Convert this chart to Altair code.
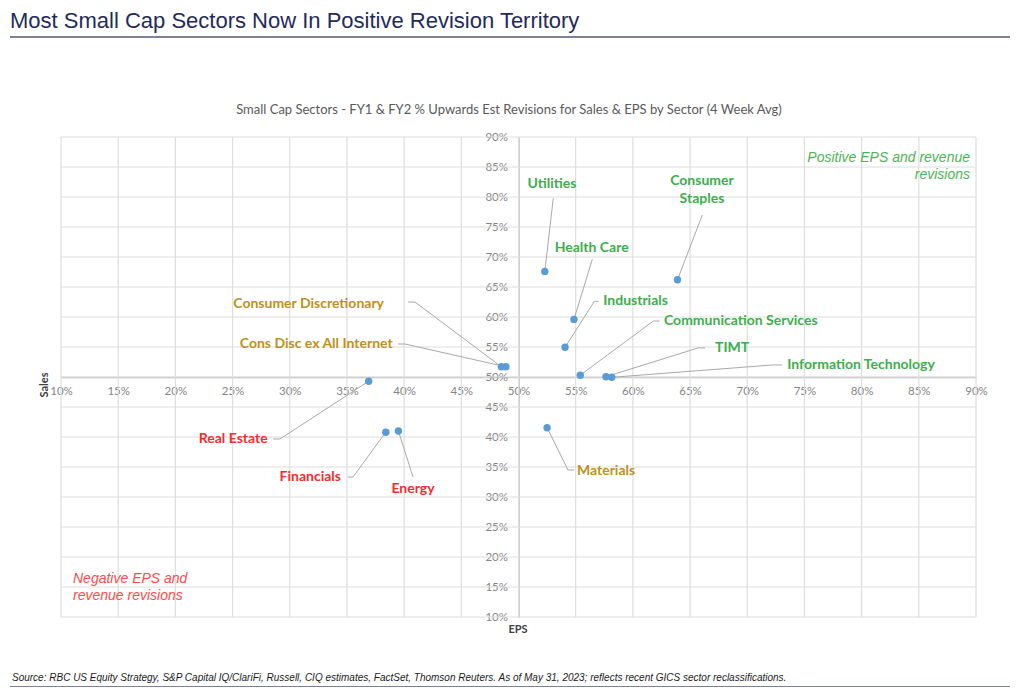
import altair as alt
import pandas as pd

# ---------------- data ----------------
sectors = ["Utilities", "Consumer Staples", "Health Care", "Industrials",
           "Communication Services", "TIMT", "Information Technology",
           "Consumer Discretionary", "Cons Disc ex All Internet",
           "Real Estate", "Financials", "Energy", "Materials"]
eps = [52.3, 63.9, 54.85, 54.07, 55.4, 57.65, 58.15, 48.5, 48.9, 36.9, 38.4, 39.5, 52.5]
sales = [67.6, 66.2, 59.6, 54.95, 50.3, 50.05, 49.95, 51.7, 51.7, 49.3, 40.8, 41.0, 41.55]
tone = ["pos", "pos", "pos", "pos", "pos", "pos", "pos",
        "mix", "mix", "neg", "neg", "neg", "mix"]

# label placement (data units): text anchor, alignment, leader elbow and end
label_lines = [["Utilities"], ["Consumer", "Staples"], ["Health Care"], ["Industrials"],
               ["Communication Services"], ["TIMT"], ["Information Technology"],
               ["Consumer Discretionary"], ["Cons Disc ex All Internet"],
               ["Real Estate"], ["Financials"], ["Energy"], ["Materials"]]
label_x = [52.93, 66.04, 56.40, 57.41, 62.72, 67.18, 73.5, 38.24, 39.0, 28.07, 34.48, 40.78, 55.11]
label_y = [82.17, 82.67, 71.45, 62.6, 59.33, 54.85, 52.0, 62.17, 55.45, 39.67, 33.33, 31.33, 34.4]
label_align = ["center", "center", "center", "left", "left", "left", "left",
               "right", "right", "right", "right", "center", "left"]
elbow_x = [None, None, None, 56.63, 61.79, 65.72, 72.16, 40.95, 40.08, 29.15, 35.53, None, 54.33]
elbow_y = [None, None, None, 62.6, 59.33, 54.85, 52.0, 62.5, 55.5, 39.67, 33.33, None, 34.5]
end_x = [53.04, 66.07, 56.45, 57.0, 62.33, 66.31, 73.04, 40.34, 39.46, 28.54, 35.09, 40.78, 54.85]
end_y = [79.78, 77.0, 69.6, 62.6, 59.33, 54.85, 52.0, 62.5, 55.5, 39.67, 33.33, 33.33, 34.5]

x_ticks = list(range(10, 95, 5))
y_ticks = list(range(10, 95, 5))

tone_domain = ["pos", "mix", "neg"]
tone_range = ["#3cae4a", "#bf9020", "#f72b2b"]

# ---------------- tables ----------------
pts = pd.DataFrame({"sector": sectors, "eps": eps, "sales": sales, "tone": tone})

lab_rows = []
for i, lines in enumerate(label_lines):
    for j, ln in enumerate(lines):
        lab_rows.append({"text": ln, "lx": label_x[i], "ly": label_y[i] - j * 3.0,
                         "align": label_align[i], "tone": tone[i]})
labs = pd.DataFrame(lab_rows)

seg_rows = []
for i, s in enumerate(sectors):
    seq = 0
    seg_rows.append({"sector": s, "seq": seq, "px": eps[i], "py": sales[i]}); seq += 1
    if elbow_x[i] is not None:
        seg_rows.append({"sector": s, "seq": seq, "px": elbow_x[i], "py": elbow_y[i]}); seq += 1
    seg_rows.append({"sector": s, "seq": seq, "px": end_x[i], "py": end_y[i]})
segs = pd.DataFrame(seg_rows)

W, H = 915, 480
xs = alt.Scale(domain=[10, 90], nice=False, zero=False)
ys = alt.Scale(domain=[10, 90], nice=False, zero=False)

LABEL_FONT = "Lato"
xaxis = alt.Axis(values=x_ticks, labelExpr="datum.value + '%'", title=None, grid=False,
                 ticks=False, tickSize=0, offset=-240, domainColor="#bfbfbf", domainWidth=1.5,
                 labelColor="#858585", labelFont=LABEL_FONT, labelFontSize=11.5,
                 labelPadding=8, labelOverlap=False, labelFlush=False)
yaxis = alt.Axis(values=y_ticks, labelExpr="datum.value + '%'", title=None, grid=False,
                 ticks=False, tickSize=0, offset=-457.5, domainColor="#bfbfbf", domainWidth=1.5,
                 labelColor="#858585", labelFont=LABEL_FONT, labelFontSize=11.5,
                 labelPadding=11, labelOverlap=False, labelFlush=False)

gridx = alt.Chart(pd.DataFrame({"v": x_ticks})).mark_rule(color="#dedede", strokeWidth=1.2).encode(
    x=alt.X("v:Q", scale=xs, axis=xaxis))
gridy = alt.Chart(pd.DataFrame({"v": y_ticks})).mark_rule(color="#dedede", strokeWidth=1.2).encode(
    y=alt.Y("v:Q", scale=ys, axis=yaxis))

leaders = alt.Chart(segs).mark_line(color="#a9a9a9", strokeWidth=1).encode(
    x=alt.X("px:Q", scale=xs, axis=xaxis),
    y=alt.Y("py:Q", scale=ys, axis=yaxis),
    detail="sector:N",
    order="seq:Q")

points = alt.Chart(pts).mark_point(filled=True, size=55, opacity=1, color="#5b9bd5").encode(
    x=alt.X("eps:Q", scale=xs, axis=xaxis),
    y=alt.Y("sales:Q", scale=ys, axis=yaxis))

def label_layer(al):
    return alt.Chart(labs[labs["align"] == al]).mark_text(
        align=al, baseline="middle", font=LABEL_FONT, fontSize=14, fontWeight="bold").encode(
        x=alt.X("lx:Q", scale=xs, axis=xaxis),
        y=alt.Y("ly:Q", scale=ys, axis=yaxis),
        text="text:N",
        color=alt.Color("tone:N", scale=alt.Scale(domain=tone_domain, range=tone_range), legend=None))

def txt(s, x, y, **kw):
    return alt.Chart(pd.DataFrame({"t": [s]})).mark_text(**kw).encode(
        x=alt.value(x), y=alt.value(y), text="t:N")

title = txt("Most Small Cap Sectors Now In Positive Revision Territory", -51, -109,
            align="left", baseline="alphabetic", font="Liberation Sans", fontSize=22, color="#1f2b5e")
title_line = alt.Chart(pd.DataFrame({"a": [0]})).mark_rule(color="#4d5b78", strokeWidth=1.5).encode(
    x=alt.value(-51), x2=alt.value(949), y=alt.value(-100))
subtitle = txt("Small Cap Sectors - FY1 & FY2 % Upwards Est Revisions for Sales & EPS by Sector (4 Week Avg)",
               448, -27, align="center", baseline="middle", font=LABEL_FONT, fontSize=13, color="#595959")
ITAL = dict(font="Liberation Sans", fontSize=14, fontStyle="italic", baseline="middle")
pos1 = txt("Positive EPS and revenue", 909, 21, align="right", color="#4cb356", **ITAL)
pos2 = txt("revisions", 909, 38, align="right", color="#4cb356", **ITAL)
neg1 = txt("Negative EPS and", 12, 442, align="left", color="#ff4a4a", **ITAL)
neg2 = txt("revenue revisions", 12, 459, align="left", color="#ff4a4a", **ITAL)
sales_t = txt("Sales", -16, 248, align="center", baseline="middle", angle=270,
              font=LABEL_FONT, fontSize=11, fontWeight="bold", color="#404040")
eps_t = txt("EPS", 457, 493, align="center", baseline="middle",
            font=LABEL_FONT, fontSize=11, fontWeight="bold", color="#404040")
footer = txt("Source: RBC US Equity Strategy, S&P Capital IQ/ClariFi, Russell, CIQ estimates, FactSet, Thomson Reuters. As of May 31, 2023; reflects recent GICS sector reclassifications.",
             -49, 541, align="left", baseline="middle", font="Liberation Sans", fontSize=10,
             fontStyle="italic", color="#1a1a1a")
footer_line = alt.Chart(pd.DataFrame({"a": [0]})).mark_rule(color="#4d5b78", strokeWidth=1.5).encode(
    x=alt.value(-51), x2=alt.value(949), y=alt.value(550))

chart = alt.layer(
    gridx, gridy, leaders, points,
    label_layer("left"), label_layer("center"), label_layer("right"),
    title, title_line, subtitle, pos1, pos2, neg1, neg2, sales_t, eps_t, footer, footer_line
).properties(
    width=W, height=H,
    autosize=alt.AutoSizeParams(type="none"),
    padding={"left": 53, "top": 129, "right": 40, "bottom": 70},
    background="white"
).configure_view(stroke=None)

chart.save("out.html", embed_options={"renderer": "svg", "actions": False})
